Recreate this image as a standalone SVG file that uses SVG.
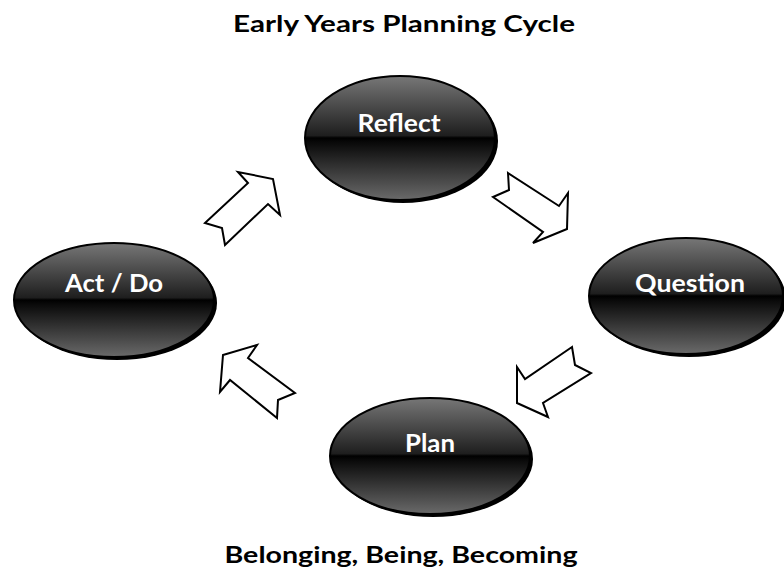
<svg xmlns="http://www.w3.org/2000/svg" width="784" height="580" viewBox="0 0 784 580">
  <defs>
    <linearGradient id="g" x1="0" y1="0" x2="0" y2="1">
      <stop offset="0" stop-color="#777"/>
      <stop offset="0.48" stop-color="#1e1e1e"/>
      <stop offset="0.5" stop-color="#000"/>
      <stop offset="0.53" stop-color="#080808"/>
      <stop offset="1" stop-color="#6a6a6a"/>
    </linearGradient>
  </defs>
  <style>
    .shadow { fill: #000; }
    .body { fill: url(#g); stroke: #000; stroke-width: 2; }
    .label { font-family: Lato, "Liberation Sans", sans-serif; font-weight: bold; font-size: 25px; fill: #fff; text-anchor: middle; }
    .title { font-family: Lato, "Liberation Sans", sans-serif; font-weight: bold; font-size: 23px; fill: #000; text-anchor: middle; }
    .arrow { fill: #fff; stroke: #000; stroke-width: 2; stroke-linejoin: miter; }
  </style>
  <rect width="784" height="580" fill="#fff"/>
  <text class="title" x="404" y="32" textLength="342" lengthAdjust="spacingAndGlyphs">Early Years Planning Cycle</text>
  <text class="title" x="401" y="563" textLength="353" lengthAdjust="spacingAndGlyphs">Belonging, Being, Becoming</text>

  <g id="reflect">
    <ellipse class="shadow" cx="403" cy="141" rx="95" ry="62"/>
    <ellipse class="body" cx="400" cy="138" rx="95" ry="62"/>
    <text class="label" x="399" y="132" textLength="83" lengthAdjust="spacingAndGlyphs">Reflect</text>
  </g>
  <g id="question">
    <ellipse class="shadow" cx="689" cy="299" rx="97" ry="58"/>
    <ellipse class="body" cx="686" cy="296" rx="97" ry="58"/>
    <text class="label" x="690" y="292" textLength="110" lengthAdjust="spacingAndGlyphs">Question</text>
  </g>
  <g id="plan">
    <ellipse class="shadow" cx="433" cy="459" rx="100" ry="58"/>
    <ellipse class="body" cx="430" cy="456" rx="100" ry="58"/>
    <text class="label" x="430" y="452" textLength="50" lengthAdjust="spacingAndGlyphs">Plan</text>
  </g>
  <g id="actdo">
    <ellipse class="shadow" cx="117" cy="303" rx="100" ry="57"/>
    <ellipse class="body" cx="114" cy="300" rx="100" ry="57"/>
    <text class="label" x="114" y="292" textLength="98" lengthAdjust="spacingAndGlyphs">Act / Do</text>
  </g>

  <g id="connectors">
    <polygon class="arrow" points="205,223 248,183 238,172 273,179 280,215 268,204 225,245 222,228"/>
    <polygon class="arrow" points="508,173 559,206 568,193 567,229 533,243 543,232 493,197 509,190"/>
    <polygon class="arrow" points="572,347 525,379 517,367 517,403 548,417 543,403 591,373 575,365"/>
    <polygon class="arrow" points="223,355 257,345 248,358 295,393 278,400 277,418 230,380 220,392"/>
  </g>
</svg>
